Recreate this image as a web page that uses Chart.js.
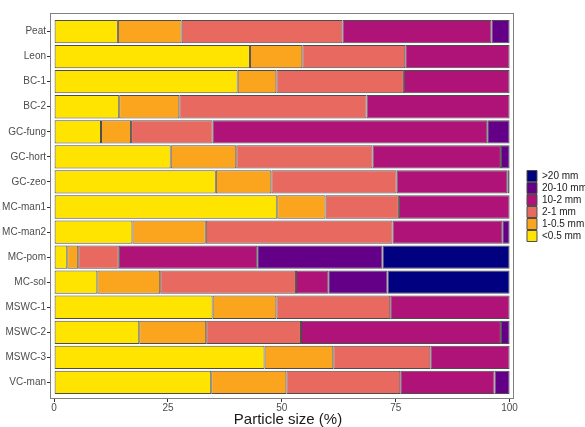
<!DOCTYPE html>
<html>
<head>
<meta charset="utf-8">
<script src="https://cdn.jsdelivr.net/npm/chart.js@4"></script>
<style>
  html, body { margin: 0; padding: 0; background: #fff; }
  #wrap { width: 585px; height: 427px; }
</style>
</head>
<body>
<div id="wrap"><canvas id="barChart" width="585" height="427"></canvas></div>
<script>
// composts / substrates, top to bottom
const categories = ['Peat', 'Leon', 'BC-1', 'BC-2', 'GC-fung', 'GC-hort', 'GC-zeo', 'MC-man1',
  'MC-man2', 'MC-pom', 'MC-sol', 'MSWC-1', 'MSWC-2', 'MSWC-3', 'VC-man'];
const sizeClasses = ['<0.5 mm', '1-0.5 mm', '2-1 mm', '10-2 mm', '20-10 mm', '>20 mm'];

// % of particles in each size class
const below05 = [14.0, 43.0, 40.3, 14.3, 10.3, 25.6, 35.5, 49.0, 17.2, 2.9, 9.5, 34.8, 18.7, 46.2, 34.5];
const from05to1 = [14.0, 11.5, 8.5, 13.2, 6.6, 14.4, 12.2, 10.6, 16.1, 2.4, 13.8, 14.0, 14.7, 15.1, 16.5];
const from1to2 = [35.3, 22.6, 28.0, 41.1, 17.9, 29.9, 27.5, 16.1, 41.0, 8.9, 29.8, 25.0, 20.8, 21.3, 25.0];
const from2to10 = [32.7, 22.9, 23.2, 31.4, 60.3, 28.2, 24.3, 24.3, 24.1, 30.4, 7.1, 26.2, 43.9, 17.4, 20.7];
const from10to20 = [4.0, 0, 0, 0, 4.9, 1.9, 0.5, 0, 1.6, 27.5, 13.0, 0, 1.9, 0, 3.3];
const above20 = [0, 0, 0, 0, 0, 0, 0, 0, 0, 27.9, 26.8, 0, 0, 0, 0];

const xTicks = [0, 25, 50, 75, 100];
const colors = ['#FFE400', '#FBA41E', '#E8695F', '#AF1377', '#640087', '#000080'];

Chart.defaults.font.family = '"Liberation Sans", Arial, sans-serif';

const series = [below05, from05to1, from1to2, from2to10, from10to20, above20];
const datasets = series.map((vals, i) => ({
  label: sizeClasses[i],
  data: vals,
  backgroundColor: colors[i],
  borderColor: '#4d4d4d',
  borderWidth: 1,
  borderSkipped: false,
  barPercentage: 0.93,
  categoryPercentage: 1
}));

// grey frame round the panel (x runs -0.9 .. 101 inside it, legend sits further right)
const panelBorder = {
  id: 'panelBorder',
  afterDatasetsDraw(chart) {
    const {ctx, chartArea: a, scales} = chart;
    const left = Math.round(a.left), right = Math.round(scales.x.getPixelForValue(101));
    ctx.save();
    ctx.strokeStyle = '#808080';
    ctx.lineWidth = 1;
    ctx.strokeRect(left + 0.5, Math.round(a.top) + 0.5, right - left - 1, Math.round(a.height) - 1);
    ctx.restore();
  }
};

var barCtx = document.getElementById('barChart').getContext('2d');
var barChart = new Chart(barCtx, {
  type: 'bar',
  data: {
    labels: categories.map((c, i) => i),
    datasets: datasets
  },
  plugins: [panelBorder],
  options: {
    indexAxis: 'y',
    responsive: false,
    animation: false,
    layout: { padding: { top: 13, left: 0, right: -12, bottom: 0 } },
    plugins: {
      legend: {
        position: 'right',
        fullSize: false,
        reverse: true,
        labels: {
          boxWidth: 10,
          boxHeight: 11,
          padding: 1,
          color: '#1a1a1a',
          font: { size: 10 }
        }
      },
      tooltip: { enabled: false }
    },
    scales: {
      x: {
        stacked: true,
        min: -0.9,
        max: 103.6,
        afterBuildTicks: s => { s.ticks = xTicks.map(v => ({ value: v })); },
        afterFit: s => { s.height = 28; },
        grid: { drawOnChartArea: false, tickLength: 3, color: '#333' },
        border: { display: false },
        ticks: { padding: 0, color: '#4d4d4d', font: { size: 10 } },
        title: { display: true, text: 'Particle size (%)', color: '#1a1a1a', font: { size: 15 }, padding: { top: 0, bottom: -2 } }
      },
      y: {
        type: 'linear',
        stacked: true,
        reverse: true,
        offset: false,
        min: -0.74,
        max: 14.66,
        afterBuildTicks: s => { s.ticks = categories.map((c, i) => ({ value: i })); },
        afterFit: s => { s.width = 50; },
        grid: { offset: false, drawOnChartArea: false, tickLength: 3, color: '#333' },
        border: { display: false },
        ticks: { padding: 1, color: '#4d4d4d', font: { size: 10 }, callback: v => categories[v] }
      }
    }
  }
});
</script>
</body>
</html>
